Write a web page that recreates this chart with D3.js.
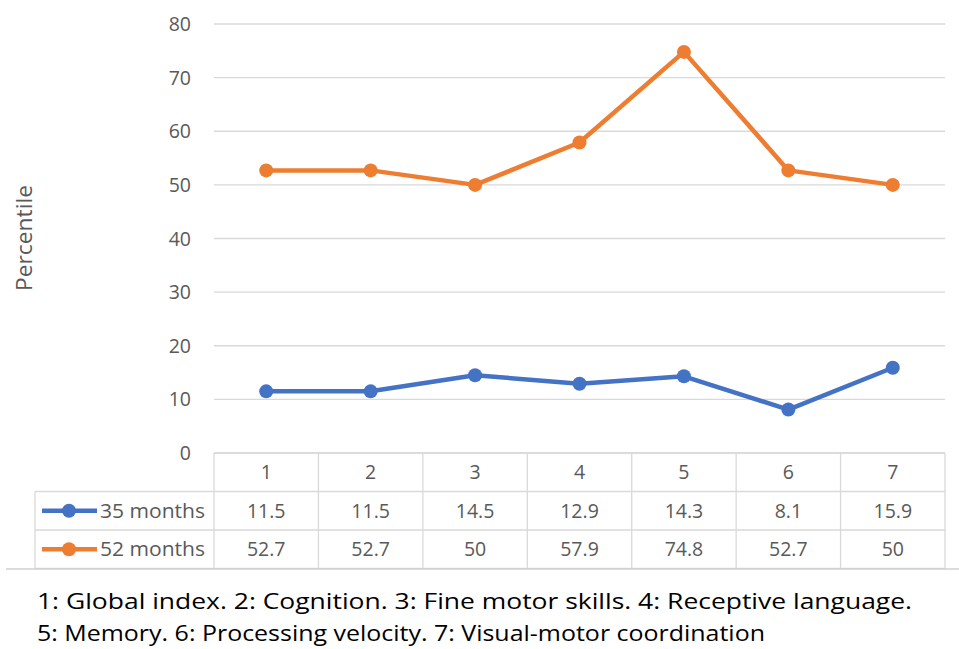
<!DOCTYPE html>
<html>
<head>
<meta charset="utf-8">
<script src="https://cdn.jsdelivr.net/npm/d3@7"></script>
<style>
  body { margin: 0; background: #fff; }
  text { font-family: "Open Sans", "Noto Sans", sans-serif; fill: #595959; }
</style>
</head>
<body>
<div id="chart"></div>
<script>
const categories = ["1", "2", "3", "4", "5", "6", "7"];
const months35 = [11.5, 11.5, 14.5, 12.9, 14.3, 8.1, 15.9];
const months52 = [52.7, 52.7, 50, 57.9, 74.8, 52.7, 50];
const yTicks = [0, 10, 20, 30, 40, 50, 60, 70, 80];
const seriesNames = ["35 months", "52 months"];
const footnotes = [
  "1: Global index. 2: Cognition. 3: Fine motor skills. 4: Receptive language.",
  "5: Memory. 6: Processing velocity. 7: Visual-motor coordination"
];

const width = 959, height = 649;
const plotLeft = 214, plotRight = 945, plotTop = 24, plotBottom = 453;
const rowH = 38.5;
const colors = ["#4472C4", "#ED7D31"];
const series = [months35, months52];

const svg = d3.select("#chart").append("svg")
  .attr("width", width)
  .attr("height", height);

const x = d3.scaleBand().domain(categories).range([plotLeft, plotRight]);
const y = d3.scaleLinear().domain([0, 80]).range([plotBottom, plotTop]);

// gridlines
svg.append("g").selectAll("line")
  .data(yTicks)
  .enter().append("line")
  .attr("x1", plotLeft).attr("x2", plotRight)
  .attr("y1", d => y(d)).attr("y2", d => y(d))
  .attr("stroke", "#d9d9d9").attr("stroke-width", 1.3);

// y axis labels
svg.append("g").selectAll("text")
  .data(yTicks)
  .enter().append("text")
  .attr("x", 191)
  .attr("y", d => y(d))
  .attr("dy", "0.36em")
  .attr("text-anchor", "end")
  .style("font-size", "19.5px")
  .text(d => d);

svg.append("text")
  .attr("transform", "translate(32,238) rotate(-90)")
  .attr("text-anchor", "middle")
  .attr("textLength", 106)
  .attr("lengthAdjust", "spacingAndGlyphs")
  .style("font-size", "21px")
  .text("Percentile");

// lines
const line = d3.line()
  .x((d, i) => x(categories[i]) + x.bandwidth() / 2)
  .y(d => y(d));

series.forEach((vals, s) => {
  svg.append("path")
    .datum(vals)
    .attr("d", line)
    .attr("fill", "none")
    .attr("stroke", colors[s])
    .attr("stroke-width", 4.5)
    .attr("stroke-linejoin", "round");
  svg.append("g").selectAll("circle")
    .data(vals)
    .enter().append("circle")
    .attr("cx", (d, i) => x(categories[i]) + x.bandwidth() / 2)
    .attr("cy", d => y(d))
    .attr("r", 7)
    .attr("fill", colors[s]);
});

// data table
const tableLeft = 35;
const table = svg.append("g");
const grid = "#d9d9d9";

// horizontal table lines
[0, 1, 2, 3].forEach(r => {
  table.append("line")
    .attr("x1", r === 0 ? plotLeft : tableLeft).attr("x2", plotRight)
    .attr("y1", plotBottom + r * rowH).attr("y2", plotBottom + r * rowH)
    .attr("stroke", grid).attr("stroke-width", 1.3);
});
// vertical table lines
categories.concat(["end"]).forEach((c, i) => {
  const xx = plotLeft + i * x.bandwidth();
  table.append("line")
    .attr("x1", xx).attr("x2", xx)
    .attr("y1", plotBottom).attr("y2", plotBottom + 3 * rowH)
    .attr("stroke", grid).attr("stroke-width", 1.3);
});
table.append("line")
  .attr("x1", tableLeft).attr("x2", tableLeft)
  .attr("y1", plotBottom + rowH).attr("y2", plotBottom + 3 * rowH)
  .attr("stroke", grid).attr("stroke-width", 1.3);

// header
table.selectAll(".hdr")
  .data(categories)
  .enter().append("text")
  .attr("x", d => x(d) + x.bandwidth() / 2)
  .attr("y", plotBottom + rowH / 2)
  .attr("dy", "0.36em")
  .attr("text-anchor", "middle")
  .style("font-size", "19.5px")
  .text(d => d);

series.forEach((vals, s) => {
  const cy = plotBottom + (s + 1.5) * rowH;
  table.append("g").selectAll("text")
    .data(vals)
    .enter().append("text")
    .attr("x", (d, i) => x(categories[i]) + x.bandwidth() / 2)
    .attr("y", cy)
    .attr("dy", "0.36em")
    .attr("text-anchor", "middle")
    .style("font-size", "19.5px")
    .text(d => d);
  // legend key
  table.append("line")
    .attr("x1", 42).attr("x2", 97)
    .attr("y1", cy).attr("y2", cy)
    .attr("stroke", colors[s]).attr("stroke-width", 4.5);
  table.append("circle")
    .attr("cx", 69).attr("cy", cy).attr("r", 7)
    .attr("fill", colors[s]);
  table.append("text")
    .attr("x", 100).attr("y", cy)
    .attr("dy", "0.36em")
    .attr("textLength", 105)
    .attr("lengthAdjust", "spacingAndGlyphs")
    .style("font-size", "19.5px")
    .text(seriesNames[s]);
});

// frame bottom
svg.append("line")
  .attr("x1", 6).attr("x2", width)
  .attr("y1", 569).attr("y2", 569)
  .attr("stroke", "#d0d0d0").attr("stroke-width", 1.5);

// footnote
svg.append("g").selectAll("text")
  .data(footnotes)
  .enter().append("text")
  .attr("x", 37)
  .attr("y", (d, i) => 609 + i * 32)
  .attr("textLength", (d, i) => i === 0 ? 875 : 728)
  .attr("lengthAdjust", "spacingAndGlyphs")
  .style("font-size", "22px")
  .style("fill", "#000")
  .text(d => d);
</script>
</body>
</html>
